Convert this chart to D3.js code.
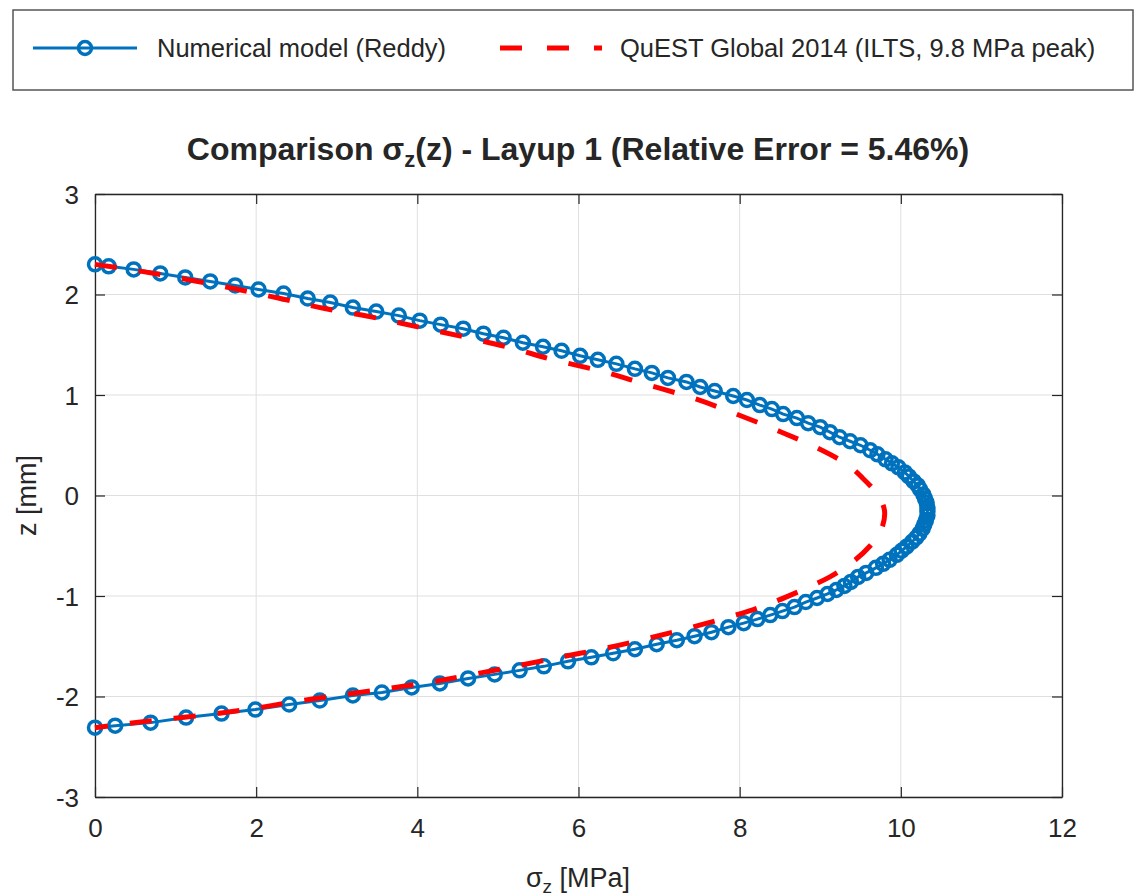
<!DOCTYPE html>
<html>
<head>
<meta charset="utf-8">
<script src="https://cdn.jsdelivr.net/npm/d3@7"></script>
<style>
  body { margin: 0; background: #fff; }
  svg { display: block; }
  text { font-family: "Liberation Sans", Arial, sans-serif; fill: #262626; }
</style>
</head>
<body>
<svg id="chart" width="1146" height="896"></svg>
<script>
// ── DATA ─────────────────────────────────────────────────────────────────────
const xTicks = [0, 2, 4, 6, 8, 10, 12];
const yTicks = [-3, -2, -1, 0, 1, 2, 3];

// Numerical model (Reddy): z [mm] and sigma_z [MPa], read top to bottom
const numZ = [
  2.30, 2.28, 2.25, 2.21, 2.17, 2.13, 2.09, 2.05, 2.01, 1.96, 1.92, 1.87, 1.83, 1.79,
  1.74, 1.70, 1.66, 1.61, 1.57, 1.52, 1.48, 1.44, 1.39, 1.35, 1.31, 1.26, 1.22, 1.17,
  1.13, 1.08, 1.04, 0.99, 0.95, 0.90, 0.86, 0.81, 0.77, 0.72, 0.68, 0.63, 0.58, 0.54,
  0.50, 0.45, 0.41, 0.36, 0.32, 0.28, 0.23, 0.19, 0.14, 0.10, 0.06, 0.01, -0.03, -0.07,
  -0.12, -0.16, -0.20, -0.25, -0.29, -0.33, -0.38, -0.42, -0.46, -0.51, -0.55, -0.59,
  -0.64, -0.68, -0.72, -0.77, -0.81, -0.86, -0.90, -0.94, -0.98, -1.02, -1.06, -1.11,
  -1.15, -1.19, -1.23, -1.27, -1.31, -1.36, -1.40, -1.44, -1.48, -1.53, -1.57, -1.61,
  -1.65, -1.70, -1.74, -1.78, -1.82, -1.87, -1.91, -1.96, -1.99, -2.04, -2.08, -2.13,
  -2.17, -2.21, -2.26, -2.29, -2.31
];
const numSigma = [
  0.00, 0.17, 0.48, 0.81, 1.12, 1.43, 1.74, 2.03, 2.34, 2.64, 2.92, 3.20, 3.49, 3.77,
  4.03, 4.29, 4.57, 4.82, 5.07, 5.31, 5.56, 5.79, 6.02, 6.24, 6.47, 6.70, 6.91, 7.11,
  7.34, 7.51, 7.69, 7.92, 8.09, 8.25, 8.40, 8.54, 8.71, 8.85, 9.00, 9.12, 9.24, 9.37,
  9.50, 9.62, 9.71, 9.81, 9.89, 9.97, 10.05, 10.10, 10.16, 10.21, 10.24, 10.28, 10.30, 10.32,
  10.33, 10.33, 10.33, 10.31, 10.29, 10.27, 10.23, 10.19, 10.14, 10.07, 10.01, 9.95,
  9.86, 9.78, 9.69, 9.57, 9.47, 9.38, 9.30, 9.20, 9.09, 8.96, 8.82, 8.68,
  8.53, 8.38, 8.22, 8.05, 7.86, 7.65, 7.44, 7.22, 6.97, 6.70, 6.43, 6.16,
  5.87, 5.57, 5.27, 4.96, 4.63, 4.28, 3.93, 3.56, 3.20, 2.79, 2.41, 1.99,
  1.57, 1.13, 0.69, 0.25, 0.00
];

// QuEST Global 2014 (ILTS, 9.8 MPa peak)
const questZ = [
  2.30, 2.23, 2.15, 2.06, 1.96, 1.86, 1.78, 1.68, 1.58, 1.48, 1.35, 1.24, 1.11, 0.98,
  0.81, 0.63, 0.47, 0.30, 0.17, 0.00, -0.18, -0.35, -0.50, -0.68, -0.81, -0.95, -1.15,
  -1.28, -1.40, -1.51, -1.60, -1.69, -1.78, -1.86, -1.93, -1.99, -2.06, -2.13, -2.19,
  -2.24, -2.31
];
const questSigma = [
  0.00, 0.58, 1.14, 1.72, 2.30, 2.85, 3.41, 3.99, 4.57, 5.11, 5.69, 6.27, 6.82, 7.38,
  7.96, 8.52, 8.97, 9.35, 9.53, 9.72, 9.80, 9.75, 9.62, 9.37, 9.12, 8.75, 8.11,
  7.55, 6.97, 6.39, 5.83, 5.27, 4.69, 4.14, 3.56, 3.00, 2.42, 1.88, 1.30,
  0.70, 0.00
];

const legendLabels = ['Numerical model (Reddy)', 'QuEST Global 2014 (ILTS, 9.8 MPa peak)'];

// ── SETUP ────────────────────────────────────────────────────────────────────
const BLUE = '#0072BD', RED = '#FF0000', AXIS = '#262626';
const M = { left: 95, right: 1062, top: 194, bottom: 797 };

const svg = d3.select('#chart');
const x = d3.scaleLinear().domain([0, 12]).range([M.left, M.right]);
const y = d3.scaleLinear().domain([-3, 3]).range([M.bottom, M.top]);

const numData = numZ.map((z, i) => ({ z, s: numSigma[i] }));
const questData = questZ.map((z, i) => ({ z, s: questSigma[i] }));

// grid
const grid = svg.append('g');
grid.selectAll('.gx').data(xTicks).join('line')
  .attr('x1', d => x(d)).attr('x2', d => x(d))
  .attr('y1', M.top).attr('y2', M.bottom)
  .attr('stroke', '#dfdfdf').attr('stroke-width', 1);
grid.selectAll('.gy').data(yTicks).join('line')
  .attr('x1', M.left).attr('x2', M.right)
  .attr('y1', d => y(d)).attr('y2', d => y(d))
  .attr('stroke', '#dfdfdf').attr('stroke-width', 1);

// axes (MATLAB style: ticks inward, box on)
const fmt = d => String(d); // plain hyphen minus like the reference
const xAxis = svg.append('g').attr('transform', `translate(0,${M.bottom})`)
  .call(d3.axisBottom(x).tickValues(xTicks).tickFormat(fmt).tickSizeInner(-10).tickSizeOuter(0).tickPadding(22));
const xAxisTop = svg.append('g').attr('transform', `translate(0,${M.top})`)
  .call(d3.axisTop(x).tickValues(xTicks).tickSizeInner(-10).tickSizeOuter(0).tickFormat(''));
const yAxis = svg.append('g').attr('transform', `translate(${M.left},0)`)
  .call(d3.axisLeft(y).tickValues(yTicks).tickFormat(fmt).tickSizeInner(-10).tickSizeOuter(0).tickPadding(16));
const yAxisRight = svg.append('g').attr('transform', `translate(${M.right},0)`)
  .call(d3.axisRight(y).tickValues(yTicks).tickSizeInner(-10).tickSizeOuter(0).tickFormat(''));

[xAxis, xAxisTop, yAxis, yAxisRight].forEach(a => {
  a.select('.domain').attr('stroke', AXIS).attr('stroke-width', 1.3);
  a.selectAll('.tick line').attr('stroke', AXIS).attr('stroke-width', 1.2);
  a.selectAll('.tick text').attr('font-size', 26).attr('fill', AXIS)
    .style('font-family', '"Liberation Sans", Arial, sans-serif');
});
yAxis.selectAll('.tick text').attr('dy', '0.36em');

// ── SERIES ───────────────────────────────────────────────────────────────────
const line = d3.line().x(d => x(d.s)).y(d => y(d.z));

svg.append('path').datum(numData)
  .attr('d', line)
  .attr('fill', 'none').attr('stroke', BLUE).attr('stroke-width', 3);

svg.append('g').selectAll('circle').data(numData).join('circle')
  .attr('cx', d => x(d.s)).attr('cy', d => y(d.z)).attr('r', 6.5)
  .attr('fill', 'none').attr('stroke', BLUE).attr('stroke-width', 3.5);

// red dashed drawn on top, as in the reference
svg.append('path').datum(questData)
  .attr('d', d3.line().x(d => x(d.s)).y(d => y(d.z)).curve(d3.curveMonotoneY))
  .attr('fill', 'none').attr('stroke', RED).attr('stroke-width', 5)
  .attr('stroke-dasharray', '22,22');

// ── TEXT ─────────────────────────────────────────────────────────────────────
const title = svg.append('text').attr('x', 578).attr('y', 160)
  .attr('text-anchor', 'middle').attr('font-size', 32).attr('font-weight', 'bold')
  .attr('fill', '#000');
title.append('tspan').text('Comparison σ');
title.append('tspan').attr('font-size', 22).attr('dy', 7).text('z');
title.append('tspan').attr('dy', -7).text('(z) - Layup 1 (Relative Error = 5.46%)');

const xl = svg.append('text').attr('x', 578).attr('y', 887)
  .attr('text-anchor', 'middle').attr('font-size', 27);
xl.append('tspan').text('σ');
xl.append('tspan').attr('font-size', 19).attr('dy', 6).text('z');
xl.append('tspan').attr('dy', -6).text(' [MPa]');

svg.append('text').attr('transform', `translate(36,${y(0)}) rotate(-90)`)
  .attr('text-anchor', 'middle').attr('font-size', 27).text('z [mm]');

// ── LEGEND ───────────────────────────────────────────────────────────────────
const lg = svg.append('g');
lg.append('rect').attr('x', 13).attr('y', 10).attr('width', 1120).attr('height', 80)
  .attr('fill', '#fff').attr('stroke', '#555').attr('stroke-width', 1.5);
lg.append('line').attr('x1', 33).attr('x2', 137).attr('y1', 48).attr('y2', 48)
  .attr('stroke', BLUE).attr('stroke-width', 3);
lg.append('circle').attr('cx', 85).attr('cy', 48).attr('r', 6.5)
  .attr('fill', 'none').attr('stroke', BLUE).attr('stroke-width', 3.5);
lg.append('line').attr('x1', 500).attr('x2', 602).attr('y1', 48).attr('y2', 48)
  .attr('stroke', RED).attr('stroke-width', 5).attr('stroke-dasharray', '22,25');
lg.selectAll('.lt').data(legendLabels).join('text')
  .attr('x', (d, i) => i === 0 ? 157 : 620).attr('y', 48).attr('dy', '0.35em')
  .attr('font-size', 25.5).text(d => d);
</script>
</body>
</html>
